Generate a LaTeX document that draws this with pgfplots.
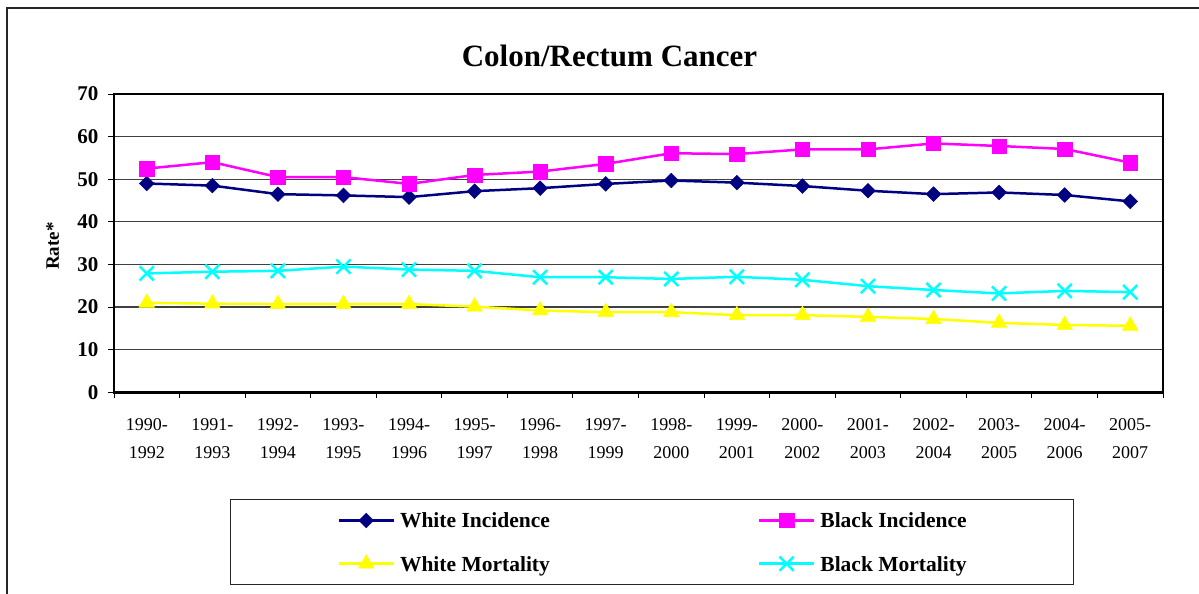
\documentclass[border=0pt]{standalone}
\usepackage{pgfplots}
\pgfplotsset{compat=1.18}
\usepackage{fontspec}
\setmainfont{Liberation Serif}
\definecolor{wnavy}{RGB}{0,0,128}
\definecolor{bmag}{RGB}{255,0,255}
\definecolor{wyel}{RGB}{255,255,0}
\definecolor{bcyan}{RGB}{0,255,255}
\begin{document}
\begin{tikzpicture}[x=1pt,y=1pt]
\useasboundingbox (0,0) rectangle (1199,594);
\draw[line width=1.5pt, black!85] (7,-30) -- (7,586) -- (1230,586);
\node[font=\fontsize{31}{31}\selectfont\bfseries, anchor=base, inner sep=0pt] at (609.5,527.3) {Colon/Rectum Cancer};
\begin{axis}[
  at={(114pt,201.7pt)}, anchor=south west,
  scale only axis, width=1049pt, height=298.3pt,
  xmin=-0.5, xmax=15.5, ymin=0, ymax=70,
  ytick={0,10,...,70},
  xtick={-0.5,0.5,...,15.5},
  x tick label as interval,
  xticklabels={{1990-\\1992},{1991-\\1993},{1992-\\1994},{1993-\\1995},{1994-\\1996},{1995-\\1997},{1996-\\1998},{1997-\\1999},{1998-\\2000},{1999-\\2001},{2000-\\2002},{2001-\\2003},{2002-\\2004},{2003-\\2005},{2004-\\2006},{2005-\\2007}},
  tick pos=left,
  tick align=outside,
  major tick length=6pt,
  tick style={line width=1pt, black},
  ymajorgrids,
  grid style={line width=1.3pt, black!75},
  axis line style={line width=2.5pt},
  /pgf/number format/assume math mode=true,
  yticklabel style={font=\fontsize{21}{21}\selectfont\bfseries, xshift=-6pt},
  xticklabel style={font=\fontsize{18}{27.7}\selectfont, align=center, yshift=-17pt},
  ylabel={Rate*},
  ylabel style={font=\fontsize{19}{19}\selectfont\bfseries, at={(axis description cs:-0.0585,0.49)}, anchor=center},
  legend columns=2,
  legend cell align=left,
  legend image code/.code={\draw[mark repeat=2,mark phase=2,#1] plot coordinates {(0pt,0pt) (27.5pt,0pt) (55pt,0pt)};},
  legend style={at={(axis description cs:0.1106,-0.3577)}, anchor=north west,
    draw=black!85, line width=1pt, inner xsep=107pt, inner ysep=13.5pt,
    font=\fontsize{21.5}{21.5}\selectfont\bfseries,
    nodes={inner sep=0pt, text height=15pt, text depth=0pt},
    row sep=26.7pt,
    /tikz/every odd column/.append style={column sep=5pt},
    /tikz/every even column/.append style={column sep=208pt}},
]
\addplot[color=wnavy, line width=2.5pt, mark=square*, mark size=5.2pt, mark options={solid, rotate=45, line width=0.5pt}] coordinates {
(0,49.0) (1,48.5) (2,46.5) (3,46.2) (4,45.8) (5,47.2) (6,47.9) (7,48.9) (8,49.7) (9,49.2) (10,48.4) (11,47.3) (12,46.5) (13,46.9) (14,46.3) (15,44.8)};
\addlegendentry{White Incidence}
\addplot[color=bmag, line width=2.5pt, mark=square*, mark size=7.2pt, mark options={solid, line width=0.5pt}] coordinates {
(0,52.5) (1,54.0) (2,50.5) (3,50.5) (4,48.9) (5,51.0) (6,51.8) (7,53.6) (8,56.1) (9,55.9) (10,57.0) (11,57.0) (12,58.4) (13,57.8) (14,57.1) (15,53.9)};
\addlegendentry{Black Incidence}
\addplot[color=wyel, line width=2.5pt, mark=triangle*, mark size=9pt, mark options={solid, line width=0.5pt}] coordinates {
(0,21.0) (1,20.8) (2,20.7) (3,20.7) (4,20.7) (5,20.1) (6,19.2) (7,18.8) (8,18.8) (9,18.1) (10,18.1) (11,17.7) (12,17.2) (13,16.3) (14,15.8) (15,15.6)};
\addlegendentry{White Mortality}
\addplot[color=bcyan, line width=2.5pt, mark=x, mark size=10pt, mark options={solid, line width=2.5pt}] coordinates {
(0,27.9) (1,28.3) (2,28.5) (3,29.5) (4,28.8) (5,28.5) (6,27.0) (7,27.0) (8,26.6) (9,27.1) (10,26.4) (11,24.9) (12,24.0) (13,23.2) (14,23.8) (15,23.5)};
\addlegendentry{Black Mortality}
\end{axis}
\end{tikzpicture}
\end{document}
